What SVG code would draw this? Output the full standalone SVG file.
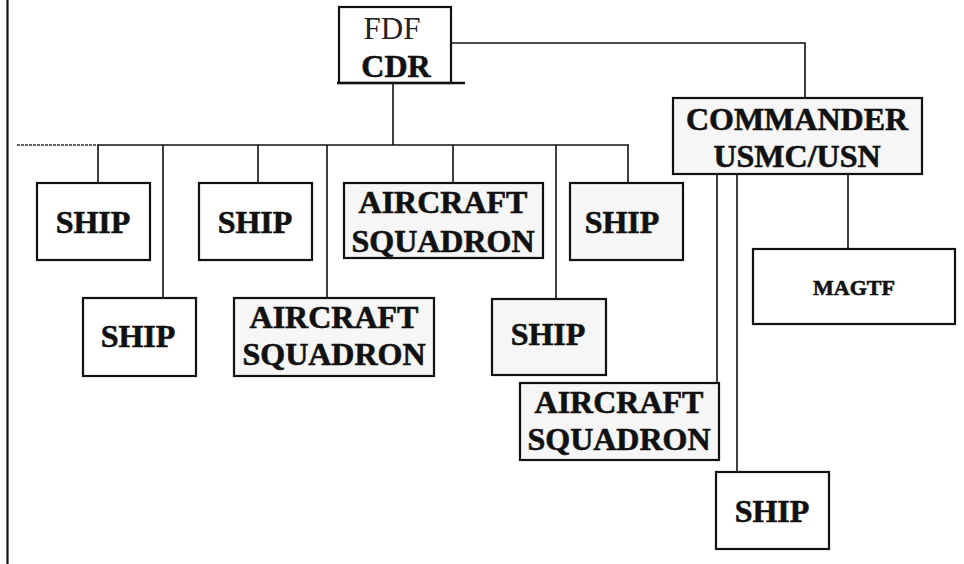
<svg xmlns="http://www.w3.org/2000/svg" width="964" height="564" viewBox="0 0 964 564">
<style>
.box{fill:#ffffff;stroke:#111;stroke-width:2.2}
.gbox{fill:#f6f6f6;stroke:#111;stroke-width:2.2}
.t{font-family:"Liberation Serif","Times New Roman",serif;font-weight:bold;font-size:32px;fill:#111;stroke:#111;stroke-width:0.6;text-anchor:middle}
.r{font-family:"Liberation Serif","Times New Roman",serif;font-size:31px;fill:#222;text-anchor:middle}
.s{font-size:22px}
.c{stroke:#111;stroke-width:1.6;fill:none}
</style>
<rect width="964" height="564" fill="#fff"/>
<line x1="7.5" y1="0" x2="7.5" y2="564" stroke="#111" stroke-width="2.2"/>
<g id="connectors">
<line class="c" x1="393" y1="84" x2="393" y2="145"/>
<line x1="17" y1="145" x2="97" y2="145" stroke="#333" stroke-width="1.6" stroke-dasharray="3 1"/>
<line class="c" x1="97" y1="145" x2="629" y2="145"/>
<line class="c" x1="98" y1="145" x2="98" y2="183"/>
<line class="c" x1="163" y1="145" x2="163" y2="298"/>
<line class="c" x1="258" y1="145" x2="258" y2="183"/>
<line class="c" x1="327" y1="145" x2="327" y2="298"/>
<line class="c" x1="453" y1="145" x2="453" y2="183"/>
<line class="c" x1="556" y1="145" x2="556" y2="299"/>
<line class="c" x1="628" y1="145" x2="628" y2="183"/>
<polyline class="c" points="452,43 805,43 805,98"/>
<line class="c" x1="717" y1="174" x2="717" y2="383"/>
<line class="c" x1="737" y1="174" x2="737" y2="472"/>
<line class="c" x1="848" y1="174" x2="848" y2="249"/>
</g>
<g id="fdf-cdr">
<rect class="box" x="339" y="7" width="112" height="76"/>
<line x1="337" y1="83" x2="465" y2="83" stroke="#111" stroke-width="2.5"/>
<text class="r" x="392" y="39">FDF</text>
<text class="t" x="396" y="77">CDR</text>
</g>
<g id="commander">
<rect class="gbox" x="673" y="98" width="249" height="76"/>
<text class="t" x="797" y="130">COMMANDER</text>
<text class="t" x="797" y="167">USMC/USN</text>
</g>
<g id="ship1">
<rect class="box" x="37" y="183" width="113" height="77"/>
<text class="t" x="93" y="233">SHIP</text>
</g>
<g id="ship2">
<rect class="box" x="199" y="183" width="113" height="77"/>
<text class="t" x="255" y="233">SHIP</text>
</g>
<g id="aircraft1">
<rect class="gbox" x="344" y="183" width="199" height="75"/>
<text class="t" x="443" y="213">AIRCRAFT</text>
<text class="t" x="443" y="252">SQUADRON</text>
</g>
<g id="ship4">
<rect class="gbox" x="570" y="183" width="113" height="77"/>
<text class="t" x="622" y="233">SHIP</text>
</g>
<g id="ship3">
<rect class="box" x="83" y="298" width="113" height="78"/>
<text class="t" x="138" y="347">SHIP</text>
</g>
<g id="aircraft2">
<rect class="gbox" x="234" y="298" width="200" height="78"/>
<text class="t" x="334" y="328">AIRCRAFT</text>
<text class="t" x="334" y="365">SQUADRON</text>
</g>
<g id="ship5">
<rect class="gbox" x="492" y="299" width="114" height="76"/>
<text class="t" x="548" y="345">SHIP</text>
</g>
<g id="aircraft3">
<rect class="gbox" x="520" y="383" width="199" height="77"/>
<text class="t" x="619" y="413">AIRCRAFT</text>
<text class="t" x="619" y="450">SQUADRON</text>
</g>
<g id="magtf">
<rect class="box" x="753" y="249" width="202" height="75"/>
<text class="t s" x="854" y="295">MAGTF</text>
</g>
<g id="ship6">
<rect class="box" x="716" y="472" width="113" height="77"/>
<text class="t" x="772" y="522">SHIP</text>
</g>
</svg>
